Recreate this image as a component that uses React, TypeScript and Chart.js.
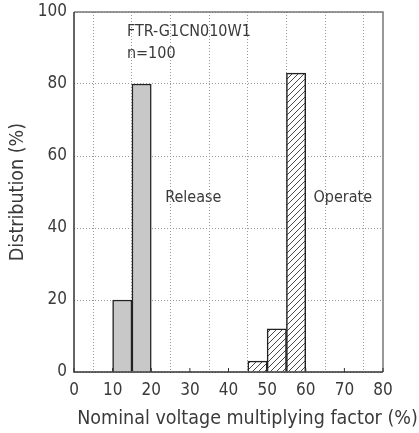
import React, { useEffect, useRef } from "react";
import { Chart, registerables } from "chart.js";

Chart.register(...registerables);

const releaseCenters = [12.5, 17.5];
const releaseValues = [20, 80];
const operateCenters = [47.5, 52.5, 57.5];
const operateValues = [3, 12, 83];
const xTicks = [0, 10, 20, 30, 40, 50, 60, 70, 80];
const yTicks = [0, 20, 40, 60, 80, 100];
const xTitle = "Nominal voltage multiplying factor (%)";
const yTitle = "Distribution (%)";
const notes = [
  { text: "FTR-G1CN010W1", x: 13.7, y: 94.6 },
  { text: "n=100", x: 13.7, y: 88.4 },
  { text: "Release", x: 23.6, y: 48.4 },
  { text: "Operate", x: 62, y: 48.4 },
];

const FONT = "'DejaVu Sans Condensed', 'Liberation Sans Narrow', sans-serif";
const TEXT = "#3a3a3a";

function makeHatch(): CanvasPattern | string {
  const c = document.createElement("canvas");
  const s = 6;
  c.width = s;
  c.height = s;
  const g = c.getContext("2d");
  if (!g) return "#fff";
  g.fillStyle = "#fff";
  g.fillRect(0, 0, s, s);
  g.strokeStyle = "#333";
  g.lineWidth = 0.9;
  g.beginPath();
  g.moveTo(-1, s + 1);
  g.lineTo(s + 1, -1);
  g.moveTo(-1, 1);
  g.lineTo(1, -1);
  g.moveTo(s - 1, s + 1);
  g.lineTo(s + 1, s - 1);
  g.stroke();
  const p = g.createPattern(c, "repeat");
  return p || "#fff";
}

const framePlugin = {
  id: "frame",
  afterDatasetsDraw(chart: any) {
    const { ctx, chartArea: a, scales } = chart;
    ctx.save();
    ctx.strokeStyle = "#777";
    ctx.lineWidth = 1.5;
    ctx.beginPath();
    ctx.moveTo(a.left, a.top);
    ctx.lineTo(a.right, a.top);
    ctx.lineTo(a.right, a.bottom);
    ctx.stroke();
    ctx.strokeStyle = "#333";
    ctx.beginPath();
    ctx.moveTo(a.left, a.top);
    ctx.lineTo(a.left, a.bottom);
    ctx.lineTo(a.right, a.bottom);
    ctx.stroke();
    ctx.lineWidth = 1;
    ctx.beginPath();
    for (const t of xTicks) {
      const px = scales.x.getPixelForValue(t);
      ctx.moveTo(px, a.bottom);
      ctx.lineTo(px, a.bottom - 4);
    }
    ctx.stroke();
    ctx.fillStyle = TEXT;
    ctx.font = `16px ${FONT}`;
    ctx.textBaseline = "middle";
    ctx.textAlign = "left";
    for (const n of notes) {
      ctx.fillText(n.text, scales.x.getPixelForValue(n.x), scales.y.getPixelForValue(n.y));
    }
    // axis titles
    ctx.textAlign = "center";
    ctx.font = `19.5px ${FONT}`;
    ctx.fillText(xTitle, 247.5, a.bottom + 47);
    ctx.translate(18, (a.top + a.bottom) / 2);
    ctx.rotate(-Math.PI / 2);
    ctx.fillText(yTitle, 0, 0);
    ctx.restore();
  },
};

export default function App() {
  const ref = useRef<HTMLCanvasElement | null>(null);
  useEffect(() => {
    if (!ref.current) return;
    const hatch = makeHatch();
    const chart = new Chart(ref.current, {
      type: "bar",
      data: {
        datasets: [
          {
            label: "Release",
            data: releaseCenters.map((x, i) => ({ x, y: releaseValues[i] })),
            backgroundColor: "#c8c8c8",
            borderColor: "#222",
            borderWidth: 1.5,
            barPercentage: 1,
            categoryPercentage: 1,
            grouped: false,
          } as any,
          {
            label: "Operate",
            data: operateCenters.map((x, i) => ({ x, y: operateValues[i] })),
            backgroundColor: hatch as any,
            borderColor: "#222",
            borderWidth: 1.5,
            barPercentage: 1,
            categoryPercentage: 1,
            grouped: false,
          } as any,
        ],
      },
      options: {
        animation: false,
        responsive: true,
        maintainAspectRatio: false,
        layout: { padding: { left: 0, top: 12, right: 36, bottom: 0 } },
        plugins: {
          legend: { display: false },
          tooltip: { enabled: false },
        },
        scales: {
          x: {
            type: "linear",
            min: 0,
            max: 80,
            offset: false,
            afterBuildTicks: (s: any) => {
              s.ticks = xTicks.map((v) => ({ value: v }));
            },
            afterFit: (s: any) => {
              s.height = 61;
              s.paddingLeft = 0;
              s.paddingRight = 0;
            },
            grid: {
              color: "#999",
              lineWidth: 1,
              drawTicks: false,
            },
            border: { display: false, dash: [1, 2] },
            ticks: {
              color: TEXT,
              font: { family: FONT, size: 17 },
              padding: 8,
              maxRotation: 0,
              autoSkip: false,
            },
            title: { display: false },
          },
          y: {
            type: "linear",
            min: 0,
            max: 100,
            afterBuildTicks: (s: any) => {
              s.ticks = yTicks.map((v) => ({ value: v }));
            },
            afterFit: (s: any) => {
              s.width = 74;
              s.paddingTop = 0;
              s.paddingBottom = 0;
            },
            grid: {
              color: "#999",
              lineWidth: 1,
              drawTicks: false,
            },
            border: { display: false, dash: [1, 2] },
            ticks: {
              color: TEXT,
              font: { family: FONT, size: 17 },
              padding: 7,
              autoSkip: false,
            },
            title: { display: false },
          },
        },
      },
      plugins: [framePlugin],
    });
    return () => chart.destroy();
  }, []);
  return (
    <div style={{ position: "fixed", left: 0, top: 0, width: 419, height: 433 }}>
      <canvas ref={ref} />
    </div>
  );
}
